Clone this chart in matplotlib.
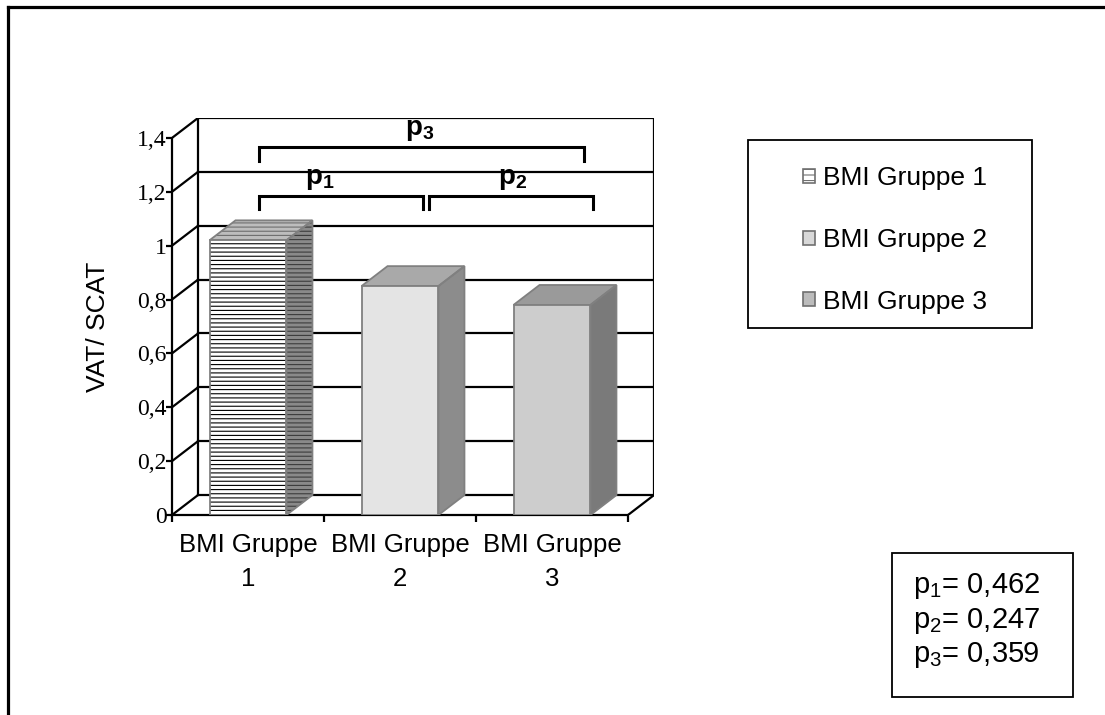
import matplotlib
matplotlib.use("Agg")
import matplotlib.pyplot as plt
from matplotlib.lines import Line2D
from matplotlib.patches import Patch, Polygon, Rectangle

plt.rcParams["font.family"] = ["Liberation Sans", "DejaVu Sans"]
plt.rcParams["mathtext.fontset"] = "custom"
plt.rcParams["mathtext.rm"] = "Liberation Sans"
plt.rcParams["mathtext.bf"] = "Liberation Sans:bold"
plt.rcParams["hatch.linewidth"] = 0.8

# --- data ---
groups = ["BMI Gruppe 1", "BMI Gruppe 2", "BMI Gruppe 3"]
group_ticks = ["BMI Gruppe\n1", "BMI Gruppe\n2", "BMI Gruppe\n3"]
vat_scat = [1.02, 0.85, 0.78]
y_ticks = [0, 0.2, 0.4, 0.6, 0.8, 1.0, 1.2, 1.4]
p_labels = ["1", "2", "3"]
p_values = ["0,462", "0,247", "0,359"]

# brackets for the pairwise tests: x span, height, label x
bracket_x = [(0.57, 1.65), (1.69, 2.77), (0.57, 2.71)]
bracket_y = [1.185, 1.185, 1.366]
bracket_text_x = [0.97, 2.24, 1.63]

# face styles per bar: (front, top, side) as (facecolor, hatch, hatchcolor)
styles = [
    [("white", "----", "black"), ("#bdbdbd", "----", "#6e6e6e"), ("#8a8a8a", "----", "#3c3c3c")],
    [("#e4e4e4", None, None), ("#a9a9a9", None, None), ("#8c8c8c", None, None)],
    [("#cdcdcd", None, None), ("#9a9a9a", None, None), ("#7a7a7a", None, None)],
]
legend_colors = ["white", "#d8d8d8", "#bcbcbc"]

DX, DY = 0.171, 0.074   # depth offset of the pseudo-3D box
HW = 0.253              # half bar width
W, H = 1105, 715

fig = plt.figure(figsize=(W / 100, H / 100), dpi=100)
ax = fig.add_axes([172 / W, 1 - 515 / H, 482 / W, 397 / H])
ax.set_xlim(0, 3 + DX)
ax.set_ylim(0, y_ticks[-1] + DY)
ax.patch.set_visible(False)

# walls: back grid, left-wall diagonals, floor edge
top = y_ticks[-1]
for v in y_ticks:
    ax.plot([DX, 3 + DX], [v + DY, v + DY], color="black", lw=1.6, zorder=1)
    ax.plot([0, DX], [v, v + DY], color="black", lw=1.6, zorder=1)
ax.plot([DX, DX], [DY, top + DY], color="black", lw=1.6, zorder=1)
ax.plot([3 + DX, 3 + DX], [DY, top + DY], color="black", lw=1.6, zorder=1)
ax.plot([3, 3 + DX], [0, DY], color="black", lw=1.6, zorder=1)


def face(pts, fc, hatch, hc, z):
    ax.add_patch(Polygon(pts, closed=True, facecolor=fc, hatch=hatch,
                         edgecolor=hc if hatch else "none", lw=0, zorder=z))
    ax.add_patch(Polygon(pts, closed=True, fill=False, edgecolor="#808080",
                         lw=1.3, zorder=z + 0.1, joinstyle="miter"))


for i, v in enumerate(vat_scat):
    c = i + 0.5
    x0, x1 = c - HW, c + HW
    front_st, top_st, side_st = styles[i]
    face([(x1, 0), (x1 + DX, DY), (x1 + DX, v + DY), (x1, v)], *side_st, 3)
    face([(x0, v), (x1, v), (x1 + DX, v + DY), (x0 + DX, v + DY)], *top_st, 3)
    face([(x0, 0), (x1, 0), (x1, v), (x0, v)], *front_st, 4)

# axes lines and ticks
for s in ["top", "right"]:
    ax.spines[s].set_visible(False)
ax.spines["left"].set_bounds(0, top)
ax.spines["bottom"].set_bounds(0, 3)
ax.spines["left"].set_linewidth(1.6)
ax.spines["bottom"].set_linewidth(1.6)

ax.set_yticks(y_ticks)
ax.set_yticklabels([f"{v:g}".replace(".", ",") for v in y_ticks],
                   fontfamily="Liberation Serif", fontsize=17)
ax.tick_params(axis="y", direction="out", length=4, width=1.6, pad=0)

ax.set_xticks([0, 1, 2, 3])
ax.set_xticklabels([])
ax.tick_params(axis="x", which="major", direction="out", length=5, width=1.6)
ax.set_xticks([0.5, 1.5, 2.5], minor=True)
ax.set_xticklabels(group_ticks, minor=True, fontsize=18.5, linespacing=1.5)
ax.tick_params(axis="x", which="minor", length=0, pad=13)

fig.text(98 / W, 1 - 327 / H, "VAT/ SCAT", rotation=90, fontsize=19,
         ha="center", va="center")

# significance brackets
for (xa, xb), yb, tx, lab in zip(bracket_x, bracket_y, bracket_text_x, p_labels):
    ax.plot([xa, xa, xb, xb], [yb - 0.05, yb, yb, yb - 0.05], color="black",
            lw=2.2, solid_joinstyle="miter", zorder=6, clip_on=False)
    ax.text(tx, yb + 0.015, rf"$\mathbf{{p_{lab}}}$", ha="center", va="bottom",
            fontsize=20, zorder=6)

# legend box
fig.add_artist(Rectangle((748 / W, 1 - 328 / H), 284 / W, 188 / H, transform=fig.transFigure,
                         fill=False, edgecolor="black", lw=1.3))
handles = [Patch(facecolor=legend_colors[i], hatch="---" if i == 0 else None,
                 edgecolor="#707070", lw=1.2) for i in range(3)]
fig.legend(handles, groups, loc="center left", bbox_to_anchor=(790 / W, 1 - 240 / H),
           frameon=False, fontsize=19, handlelength=0.45, handleheight=0.45,
           handletextpad=0.3, labelspacing=1.43, borderpad=0)

# p-value box
fig.add_artist(Rectangle((892 / W, 1 - 697 / H), 181 / W, 144 / H, transform=fig.transFigure,
                         fill=False, edgecolor="black", lw=1.3))
for k, (lab, pv) in enumerate(zip(p_labels, p_values)):
    fig.text(913 / W, 1 - (593 + 34.5 * k) / H, rf"$\mathregular{{p_{lab}}}$= {pv}",
             fontsize=21, ha="left", va="baseline")

# outer frame
fig.add_artist(Line2D([8 / W, 1], [1 - 7 / H, 1 - 7 / H], transform=fig.transFigure,
                      color="black", lw=2.3))
fig.add_artist(Line2D([8 / W, 8 / W], [0, 1 - 7 / H], transform=fig.transFigure,
                      color="black", lw=2.3))

fig.savefig("out.png", dpi=100)
